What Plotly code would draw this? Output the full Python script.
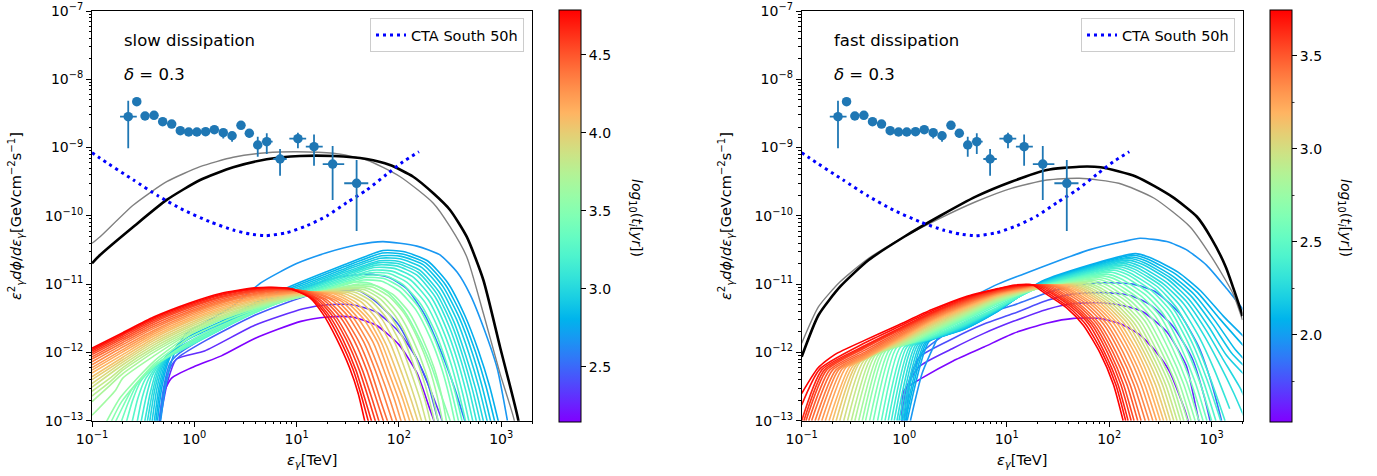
import math
import plotly.graph_objects as go

W, H = 1377, 476

# ---------------- data ----------------
PT_E = [0.226, 0.274, 0.330, 0.404, 0.491, 0.601, 0.730, 0.881, 1.06, 1.29, 1.57, 1.92, 2.34, 2.86, 3.45,
        4.17, 5.11, 6.89, 10.3, 14.8, 22.5, 38.6]
PT_E_MIN = [0.188, 0.274, 0.330, 0.404, 0.491, 0.601, 0.730, 0.881, 1.06, 1.29, 1.57, 1.92, 2.34, 2.86, 3.45,
            4.17, 4.56, 5.92, 8.49, 12.3, 18.0, 29.2]
PT_E_MAX = [0.274, 0.274, 0.330, 0.404, 0.491, 0.601, 0.730, 0.881, 1.06, 1.29, 1.57, 1.92, 2.34, 2.86, 3.45,
            4.17, 5.83, 8.0, 12.4, 18.0, 29.2, 50.2]
PT_F = [2.83e-9, 4.70e-9, 2.90e-9, 2.97e-9, 2.39e-9, 2.21e-9, 1.77e-9, 1.69e-9, 1.69e-9, 1.71e-9, 1.83e-9,
        1.65e-9, 1.49e-9, 2.12e-9, 1.62e-9, 1.09e-9, 1.22e-9, 6.80e-10, 1.35e-9, 1.03e-9, 5.74e-10, 3.0e-10]
PT_F_MIN = [9.75e-10, 4.55e-9, 2.80e-9, 2.87e-9, 2.30e-9, 2.12e-9, 1.70e-9, 1.62e-9, 1.62e-9, 1.63e-9, 1.75e-9,
            1.36e-9, 1.22e-9, 2.03e-9, 1.40e-9, 7.35e-10, 8.05e-10, 3.87e-10, 9.75e-10, 5.42e-10, 1.71e-10, 6.0e-11]
PT_F_MAX = [4.86e-9, 4.85e-9, 3.0e-9, 3.07e-9, 2.48e-9, 2.30e-9, 1.84e-9, 1.76e-9, 1.76e-9, 1.79e-9, 1.91e-9,
            1.72e-9, 1.56e-9, 2.21e-9, 1.69e-9, 1.44e-9, 1.62e-9, 9.53e-10, 1.65e-9, 1.56e-9, 1.05e-9, 6.57e-10]

CTA_E = [0.1, 0.120, 0.254, 0.445, 0.780, 1.42, 2.40, 3.50, 4.99, 8.0, 12.6, 19.7, 30.9, 48.4, 76.0, 110, 157]
CTA_F = [8.4e-10, 6.97e-10, 3.35e-10, 1.95e-10, 1.22e-10, 8.2e-11, 6.2e-11, 5.42e-11, 5.12e-11, 5.66e-11,
         7.18e-11, 9.95e-11, 1.56e-10, 2.39e-10, 4.06e-10, 6.2e-10, 8.69e-10]

BLK_L_E = [0.1, 0.12, 0.254, 0.537, 1.14, 2.40, 5.10, 10.8, 22.9, 48.4, 81.8, 138, 217, 316, 460, 669, 973, 1469, 1550]
BLK_L_F = [2.02e-11, 2.67e-11, 6.93e-11, 1.71e-10, 3.35e-10, 5.14e-10, 6.73e-10, 7.52e-10, 7.52e-10, 6.79e-10,
           5.55e-10, 3.74e-10, 2.14e-10, 1.22e-10, 4.95e-11, 1.15e-11, 1.21e-12, 1.02e-13, 5e-14]
GRY_L_E = [0.1, 0.12, 0.254, 0.537, 1.14, 2.40, 5.10, 10.0, 22.9, 48.4, 103, 217, 316, 460, 669, 973, 1340, 1420]
GRY_L_F = [3.96e-11, 4.94e-11, 1.44e-10, 3.16e-10, 5.25e-10, 7.2e-10, 8.41e-10, 8.69e-10, 8.24e-10, 6.58e-10,
           3.74e-10, 1.53e-10, 6.93e-11, 2.52e-11, 3.74e-12, 4.94e-13, 1.02e-13, 5e-14]
BLK_R_E = [0.1, 0.146, 0.237, 0.450, 1.0, 2.23, 4.99, 11.1, 24.7, 51.1, 82.6, 184, 410, 719, 993, 1370, 1967, 2000]
BLK_R_F = [8.65e-13, 3.53e-12, 9.16e-12, 2.25e-11, 4.94e-11, 9.95e-11, 1.91e-10, 3.16e-10, 4.69e-10, 5.25e-10,
           5.14e-10, 3.74e-10, 1.91e-10, 9.7e-11, 4.69e-11, 1.8e-11, 3.73e-12, 3.4e-12]
GRY_R_E = [0.1, 0.146, 0.237, 0.450, 1.0, 2.23, 4.99, 11.1, 24.7, 51.1, 124, 275, 614, 993, 1610, 2000]
GRY_R_F = [1.36e-12, 4.67e-12, 1.08e-11, 2.39e-11, 4.94e-11, 9.2e-11, 1.61e-10, 2.53e-10, 3.35e-10, 3.55e-10,
           3.0e-10, 1.81e-10, 6.93e-11, 2.52e-11, 7.34e-12, 2.98e-12]

# model spectra, flux in units of 1e-12 GeV cm^-2 s^-1
FLUX_UNIT = 1e-12

# left panel ("slow dissipation"), colour = log10(t_i[yr])
L_T = [2.15, 2.3, 2.45, 2.58, 2.68, 2.78, 2.83, 2.88, 2.93, 2.98, 3.03, 3.08, 3.14, 3.2, 3.26, 3.32, 3.39,
       3.45, 3.51, 3.58, 3.64, 3.7, 3.76, 3.82, 3.88, 3.94, 4.0, 4.06, 4.12, 4.18, 4.24, 4.3, 4.36, 4.42,
       4.48, 4.54, 4.6, 4.66, 4.72, 4.79]
L_E = [
    [0.45, 0.5, 0.6, 1.0, 1.84, 3.9, 11, 20, 35, 60, 100, 150, 200, 240],
    [0.45, 0.55, 0.67, 1.26, 3.9, 11.6, 20, 35, 60, 100, 150, 210, 280],
    [0.45, 0.52, 0.6, 0.7, 1.3, 3.9, 11.6, 25, 40, 60, 100, 150, 190, 250],
    [0.45, 0.5, 0.58, 0.7, 1.3, 3.9, 11, 25, 50, 80, 120, 180, 260, 350, 450],
    [0.46, 0.52, 0.6, 0.7, 0.87, 1.3, 2.3, 4.5, 10, 20, 40, 70, 150, 250, 370, 500, 680, 915, 1150],
    [0.43, 0.48, 0.56, 0.66, 0.87, 1.8, 3.9, 8, 16, 30, 70, 110, 190, 300, 440, 600, 770, 950],
    [0.415, 0.465, 0.54, 0.64, 0.88, 1.8, 3.9, 8, 16, 30, 69, 108, 182, 285, 415, 560, 710, 875],
    [0.4, 0.45, 0.52, 0.62, 0.9, 1.8, 3.9, 8, 16, 30, 68, 105, 175, 270, 390, 520, 650, 800],
    [0.38, 0.43, 0.495, 0.595, 0.9, 1.8, 3.9, 8, 16, 30, 66, 102, 168, 258, 368, 485, 605, 740],
    [0.36, 0.41, 0.47, 0.57, 0.9, 1.8, 3.9, 8, 16, 30, 65, 100, 160, 245, 345, 450, 560, 680],
    [0.34, 0.39, 0.445, 0.545, 0.9, 1.8, 3.9, 8, 16, 30, 62, 97, 155, 235, 328, 425, 525, 630],
    [0.32, 0.37, 0.42, 0.52, 0.9, 1.8, 3.9, 8, 16, 30, 60, 95, 150, 225, 310, 400, 490, 580],
    [0.295, 0.34, 0.39, 0.49, 0.9, 1.8, 3.9, 8, 16, 30, 57, 90, 140, 210, 290, 375, 455, 535],
    [0.27, 0.31, 0.36, 0.46, 0.9, 1.8, 3.9, 8, 16, 30, 55, 85, 130, 195, 270, 350, 420, 490],
    [0.24, 0.28, 0.33, 0.44, 0.9, 1.8, 3.9, 8, 16, 30, 52, 80, 120, 180, 250, 325, 390, 455],
    [0.21, 0.25, 0.3, 0.42, 0.9, 1.8, 3.9, 8, 16, 30, 50, 75, 110, 165, 230, 300, 360, 420],
    [0.185, 0.225, 0.275, 0.41, 0.9, 1.8, 3.9, 8, 16, 30, 47, 71, 105, 155, 215, 280, 335, 388],
    [0.16, 0.2, 0.25, 0.4, 0.9, 1.8, 3.9, 8, 16, 30, 45, 68, 100, 145, 200, 260, 310, 355],
    [0.148, 0.195, 0.41, 0.88, 1.82, 3.9, 8, 16, 35, 52, 78, 112, 157, 210, 261, 325],
    [0.135, 0.19, 0.41, 0.87, 1.84, 3.9, 8, 16, 40, 60, 88, 125, 170, 220, 262, 295],
    [0.1, 0.17, 0.2, 0.4, 0.88, 1.82, 3.9, 8, 16, 36, 55, 80, 113, 154, 200, 238, 270],
    [0.1, 0.15, 0.2, 0.4, 0.9, 1.8, 3.9, 8, 16, 33, 50, 72, 102, 138, 180, 215, 245],
    [0.1, 0.15, 0.2, 0.4, 0.9, 1.8, 3.9, 8, 16, 30, 46, 66, 93, 126, 164, 197, 225],
    [0.1, 0.15, 0.2, 0.4, 0.9, 1.8, 3.9, 8, 16, 28, 42, 60, 85, 115, 148, 180, 205],
    [0.1, 0.2, 0.4, 0.9, 1.8, 3.9, 8, 16, 25, 37, 54, 76, 103, 132, 162, 187],
    [0.1, 0.2, 0.4, 0.9, 1.8, 3.9, 8, 22, 33, 48, 68, 92, 118, 145, 170],
    [0.1, 0.2, 0.4, 0.9, 1.8, 3.9, 8, 19, 29, 43, 61, 83, 107, 132, 156],
    [0.1, 0.2, 0.4, 0.9, 1.8, 3.9, 8, 17, 26, 38, 55, 75, 97, 120, 142],
    [0.1, 0.2, 0.4, 0.9, 1.8, 3.9, 8, 15, 23, 34, 50, 68, 88, 110, 130],
    [0.1, 0.2, 0.4, 0.9, 1.8, 3.9, 8, 13, 20, 31, 45, 62, 80, 100, 118],
    [0.1, 0.2, 0.4, 0.9, 1.8, 3.9, 9, 11.5, 18, 28, 40, 56, 73, 91, 107],
    [0.1, 0.2, 0.4, 0.9, 1.8, 3.9, 10, 16, 25, 36, 50, 66, 82, 97],
    [0.1, 0.2, 0.4, 0.9, 1.8, 3.9, 9, 14.5, 22.5, 32.5, 45, 59.5, 74, 88],
    [0.1, 0.2, 0.4, 0.9, 1.8, 3.9, 8, 13, 20, 29, 40, 53, 66, 79],
    [0.1, 0.2, 0.4, 0.9, 1.8, 3.9, 7.5, 12, 18.5, 26.5, 36.5, 48.5, 60, 72],
    [0.1, 0.2, 0.4, 0.9, 1.8, 3.9, 7, 11, 17, 24, 33, 44, 54, 65],
    [0.1, 0.2, 0.4, 0.9, 1.8, 3.9, 6.5, 10.2, 16, 22.5, 30.5, 41, 50, 60],
    [0.1, 0.2, 0.4, 0.9, 1.8, 3.9, 6, 9.5, 15, 21, 28, 38, 46, 55],
    [0.1, 0.2, 0.4, 0.9, 1.8, 3.9, 5.75, 9.05, 14.2, 19.6, 26.2, 35.5, 43, 51],
    [0.1, 0.2, 0.4, 0.9, 1.8, 3.9, 5.5, 8.6, 13.5, 18.2, 24.5, 33, 40, 47],
]
L_F = [
    [0.08, 0.25, 0.42, 0.62, 0.89, 1.6, 2.85, 3.3, 3.3, 2.5, 1.3, 0.5, 0.15, 0.07],
    [0.08, 0.38, 0.8, 1.05, 2.5, 4.35, 5.0, 5.0, 3.9, 2.0, 0.8, 0.25, 0.08],
    [0.08, 0.35, 0.65, 0.85, 1.5, 3.5, 6.5, 8.0, 8.1, 5.5, 2.5, 0.8, 0.37, 0.08],
    [0.08, 0.3, 0.7, 0.95, 1.7, 4.3, 8.5, 12.5, 14, 12.5, 8.5, 3.5, 1.0, 0.3, 0.09],
    [0.08, 0.3, 0.75, 1.3, 2.0, 2.8, 4.6, 10.5, 20, 29, 38, 42, 36, 27, 15, 6.9, 2.2, 0.58, 0.1],
    [0.08, 0.3, 0.75, 1.2, 1.7, 2.8, 5.3, 8.8, 13.5, 19.5, 31, 30, 22, 10.5, 3.5, 1.05, 0.32, 0.09],
    [0.08, 0.3, 0.72, 1.12, 1.57, 2.65, 5.0, 8.3, 12.6, 18.2, 28.5, 27.7, 20.5, 9.8, 3.35, 1.02, 0.32, 0.09],
    [0.08, 0.3, 0.7, 1.05, 1.45, 2.5, 4.7, 7.8, 11.8, 17, 26, 25.5, 19, 9.2, 3.2, 1.0, 0.32, 0.09],
    [0.08, 0.29, 0.65, 1.0, 1.4, 2.4, 4.5, 7.4, 11.1, 16, 24, 23.5, 17.5, 8.5, 3.0, 0.95, 0.31, 0.09],
    [0.08, 0.28, 0.6, 0.95, 1.35, 2.3, 4.3, 7.0, 10.5, 15, 22, 21.5, 16, 7.8, 2.8, 0.9, 0.3, 0.09],
    [0.08, 0.26, 0.55, 0.9, 1.32, 2.25, 4.2, 6.7, 10, 14.2, 20.5, 20, 14.8, 7.2, 2.6, 0.85, 0.28, 0.09],
    [0.08, 0.25, 0.5, 0.85, 1.3, 2.2, 4.1, 6.4, 9.6, 13.5, 19, 18.5, 13.5, 6.6, 2.4, 0.8, 0.27, 0.09],
    [0.08, 0.23, 0.46, 0.78, 1.27, 2.17, 4.0, 6.25, 9.2, 12.7, 17.5, 17, 12.5, 6.2, 2.25, 0.75, 0.26, 0.09],
    [0.08, 0.22, 0.42, 0.72, 1.25, 2.15, 3.9, 6.1, 8.8, 12, 16, 15.5, 11.5, 5.8, 2.1, 0.7, 0.25, 0.09],
    [0.08, 0.21, 0.4, 0.69, 1.27, 2.17, 3.85, 6.0, 8.5, 11.4, 14.7, 14.3, 10.6, 5.4, 2.0, 0.66, 0.24, 0.09],
    [0.08, 0.2, 0.38, 0.66, 1.3, 2.2, 3.8, 5.9, 8.2, 10.8, 13.5, 13.2, 9.8, 5.0, 1.9, 0.62, 0.24, 0.09],
    [0.08, 0.18, 0.34, 0.64, 1.37, 2.32, 3.9, 5.85, 7.95, 10.3, 12.5, 12.1, 8.9, 4.65, 1.8, 0.61, 0.23, 0.09],
    [0.08, 0.16, 0.3, 0.62, 1.45, 2.45, 4.0, 5.8, 7.7, 9.8, 11.5, 11.0, 8.0, 4.3, 1.7, 0.6, 0.23, 0.09],
    [0.085, 0.19, 0.69, 1.6, 2.72, 4.2, 5.8, 7.55, 10.7, 10.3, 7.5, 4.1, 1.65, 0.6, 0.23, 0.09],
    [0.09, 0.22, 0.76, 1.75, 3.0, 4.4, 5.8, 7.4, 10.0, 9.5, 7.0, 3.9, 1.6, 0.6, 0.23, 0.09],
    [0.12, 0.28, 0.42, 0.88, 1.85, 3.05, 4.5, 5.95, 7.5, 9.5, 9.05, 6.6, 3.7, 1.55, 0.57, 0.22, 0.09],
    [0.19, 0.33, 0.49, 1.0, 1.95, 3.1, 4.6, 6.1, 7.6, 9.0, 8.6, 6.3, 3.5, 1.5, 0.55, 0.22, 0.09],
    [0.23, 0.37, 0.55, 1.09, 2.08, 3.25, 4.75, 6.2, 7.6, 8.6, 8.25, 6.05, 3.35, 1.45, 0.52, 0.21, 0.09],
    [0.27, 0.42, 0.6, 1.18, 2.2, 3.4, 4.9, 6.3, 7.6, 8.3, 7.9, 5.8, 3.2, 1.4, 0.5, 0.2, 0.09],
    [0.31, 0.66, 1.28, 2.35, 3.6, 5.1, 6.45, 7.6, 8.0, 7.6, 5.6, 3.15, 1.38, 0.5, 0.2, 0.09],
    [0.35, 0.72, 1.38, 2.5, 3.8, 5.3, 6.6, 7.8, 7.4, 5.5, 3.1, 1.35, 0.5, 0.2, 0.09],
    [0.4, 0.78, 1.49, 2.68, 4.0, 5.55, 6.8, 7.7, 7.3, 5.45, 3.05, 1.32, 0.49, 0.2, 0.09],
    [0.44, 0.85, 1.6, 2.85, 4.2, 5.8, 7.0, 7.6, 7.2, 5.4, 3.0, 1.3, 0.48, 0.19, 0.09],
    [0.5, 0.93, 1.72, 3.02, 4.45, 6.05, 7.15, 7.6, 7.25, 5.4, 3.05, 1.35, 0.49, 0.2, 0.09],
    [0.55, 1.02, 1.85, 3.2, 4.7, 6.3, 7.3, 7.6, 7.3, 5.4, 3.1, 1.4, 0.5, 0.2, 0.09],
    [0.6, 1.1, 1.97, 3.4, 4.95, 6.55, 7.5, 7.7, 7.35, 5.5, 3.15, 1.4, 0.5, 0.2, 0.09],
    [0.66, 1.2, 2.1, 3.6, 5.2, 6.8, 7.8, 7.4, 5.6, 3.2, 1.4, 0.5, 0.2, 0.09],
    [0.73, 1.3, 2.25, 3.8, 5.45, 7.05, 7.95, 7.55, 5.7, 3.25, 1.45, 0.52, 0.2, 0.09],
    [0.8, 1.4, 2.4, 4.0, 5.7, 7.3, 8.1, 7.7, 5.8, 3.3, 1.5, 0.55, 0.2, 0.09],
    [0.86, 1.5, 2.57, 4.25, 6.0, 7.6, 8.25, 7.85, 5.85, 3.35, 1.5, 0.55, 0.21, 0.09],
    [0.93, 1.6, 2.75, 4.5, 6.3, 7.9, 8.4, 8.0, 5.9, 3.4, 1.5, 0.55, 0.22, 0.09],
    [0.99, 1.7, 2.9, 4.7, 6.55, 8.15, 8.6, 8.15, 5.95, 3.4, 1.55, 0.55, 0.22, 0.09],
    [1.05, 1.8, 3.05, 4.9, 6.8, 8.4, 8.8, 8.3, 6.0, 3.4, 1.6, 0.55, 0.22, 0.09],
    [1.1, 1.88, 3.18, 5.1, 7.05, 8.6, 8.9, 8.45, 6.15, 3.5, 1.6, 0.57, 0.23, 0.09],
    [1.15, 1.95, 3.3, 5.3, 7.3, 8.8, 9.0, 8.6, 6.3, 3.6, 1.6, 0.59, 0.25, 0.09],
]

# right panel ("fast dissipation")
R_T = [1.55, 1.65, 1.75, 1.85, 1.98, 2.05, 2.09, 2.12, 2.16, 2.2, 2.24, 2.28, 2.32, 2.36, 2.4, 2.45, 2.5,
       2.55, 2.6, 2.65, 2.7, 2.75, 2.8, 2.85, 2.9, 2.95, 3.0, 3.05, 3.1, 3.15, 3.2, 3.25, 3.3, 3.35, 3.4,
       3.45, 3.5, 3.55, 3.6, 3.65, 3.7, 3.747]
R_E = [
    [0.95, 1.0, 1.53, 3, 6, 11.6, 25, 45, 80, 130, 200, 290, 390, 550, 600],
    [0.95, 1.05, 1.4, 3, 6, 11.6, 25, 45, 90, 150, 215, 365, 565, 700, 760],
    [1.0, 1.1, 1.4, 3, 6, 11.6, 25, 45, 90, 160, 250, 420, 650, 850, 980],
    [1.05, 1.15, 1.5, 3, 6, 11.6, 25, 45, 90, 170, 280, 480, 750, 1000, 1250],
    [1.15, 1.5, 2.14, 2.6, 3.9, 8.2, 14.5, 30.7, 65, 137, 200, 365, 565, 890, 1400, 2150],
    [1.07, 1.75, 2.6, 3.9, 8.2, 22, 180, 250, 470, 780, 1300, 2150],
    [1.03, 1.67, 2.5, 3.9, 8.2, 22, 172, 240, 445, 730, 1200, 2150],
    [1.0, 1.6, 2.4, 3.9, 8.2, 22, 165, 230, 420, 680, 1100, 1700, 2150],
    [0.965, 1.52, 2.3, 3.9, 8.2, 22, 157, 220, 400, 640, 1025, 1550, 2150],
    [0.93, 1.45, 2.2, 3.9, 8.2, 22, 150, 210, 380, 600, 950, 1400, 2150],
    [0.89, 1.37, 2.1, 3.9, 8.2, 22, 145, 200, 360, 565, 885, 1275, 1900, 2150],
    [0.85, 1.3, 2.0, 3.9, 8.2, 22, 140, 190, 340, 530, 820, 1150, 1650, 2150],
    [0.8, 1.22, 1.9, 3.9, 8.2, 22, 132, 180, 320, 495, 760, 1065, 1500],
    [0.75, 1.15, 1.8, 3.9, 8.2, 22, 125, 170, 300, 460, 700, 980, 1350],
    [0.7, 1.07, 1.7, 3.9, 8.2, 22, 117, 160, 280, 430, 650, 905, 1225],
    [0.65, 1.0, 1.6, 3.9, 8.2, 22, 110, 150, 260, 400, 600, 830, 1100],
    [0.6, 0.92, 1.5, 3.9, 8.2, 22, 102, 140, 242, 370, 550, 760, 1000],
    [0.55, 0.85, 1.4, 3.9, 8.2, 22, 95, 130, 225, 340, 500, 690, 900],
    [0.5, 0.78, 1.3, 1.84, 3.9, 8.2, 22, 87, 120, 207, 312, 457, 632, 825],
    [0.46, 0.72, 1.2, 1.84, 3.9, 8.2, 22, 80, 110, 190, 285, 415, 575, 750],
    [0.42, 0.66, 1.1, 1.84, 3.9, 8.2, 22, 75, 102, 176, 262, 382, 530, 690],
    [0.39, 0.61, 1.0, 1.84, 3.9, 8.2, 22, 70, 95, 162, 240, 350, 485, 630],
    [0.36, 0.565, 0.93, 1.84, 3.9, 8.2, 22, 65, 87, 150, 222, 324, 450, 582],
    [0.33, 0.52, 0.87, 1.84, 3.9, 8.2, 22, 60, 80, 137, 205, 298, 415, 535],
    [0.305, 0.48, 0.87, 1.84, 3.9, 8.2, 22, 55, 74, 127, 190, 276, 385, 497],
    [0.28, 0.44, 0.87, 1.84, 3.9, 8.2, 22, 50, 68, 117, 175, 255, 355, 460],
    [0.257, 0.405, 0.87, 1.84, 3.9, 8.2, 22, 46, 63, 108, 162, 237, 330, 427],
    [0.235, 0.37, 0.87, 1.84, 3.9, 8.2, 22, 42, 58, 100, 150, 220, 305, 395],
    [0.217, 0.345, 0.87, 1.84, 3.9, 8.2, 22, 39.5, 54, 93, 140, 205, 282, 367],
    [0.2, 0.32, 0.87, 1.84, 3.9, 8.2, 22, 37, 50, 87, 130, 190, 260, 340],
    [0.185, 0.295, 0.41, 0.87, 1.84, 3.9, 8.2, 22, 34.5, 46.5, 81, 121, 176, 241, 315],
    [0.17, 0.27, 0.41, 0.87, 1.84, 3.9, 8.2, 22, 32, 43, 75, 112, 162, 222, 290],
    [0.157, 0.25, 0.41, 0.87, 1.84, 3.9, 8.2, 21, 30, 40, 69.5, 103, 150, 205, 267],
    [0.145, 0.23, 0.41, 0.87, 1.84, 3.9, 8.2, 20, 28, 37, 64, 95, 137, 188, 245],
    [0.135, 0.215, 0.41, 0.87, 1.84, 3.9, 8.2, 19, 26.5, 34.5, 59.5, 88, 127, 174, 225],
    [0.125, 0.2, 0.41, 0.87, 1.84, 3.9, 8.2, 18, 25, 32, 55, 81, 117, 160, 205],
    [0.117, 0.187, 0.41, 0.87, 1.84, 3.9, 8.2, 17, 23.5, 30, 51.5, 76, 109, 149, 190],
    [0.11, 0.175, 0.41, 0.87, 1.84, 3.9, 8.2, 16, 22, 28, 48, 71, 102, 138, 175],
    [0.105, 0.166, 0.41, 0.87, 1.84, 3.9, 8.2, 15, 21, 26.5, 45.5, 67, 96, 130, 164],
    [0.1, 0.158, 0.41, 0.87, 1.84, 3.9, 8.2, 14, 20, 25, 43, 63, 90, 122, 153],
    [0.1, 0.15, 0.41, 0.87, 1.84, 3.9, 8.2, 13, 19, 23.8, 40.7, 59.5, 85.5, 116, 145],
    [0.1, 0.144, 0.21, 0.41, 0.87, 1.84, 3.9, 8.2, 12, 18, 22.6, 38.5, 56, 81, 110, 137],
]
R_F = [
    [0.1, 0.28, 0.43, 0.75, 1.2, 1.9, 2.7, 3.15, 3.15, 2.6, 1.8, 1.0, 0.52, 0.14, 0.09],
    [0.1, 0.3, 0.62, 1.15, 1.9, 2.85, 4.3, 5.2, 5.3, 4.7, 3.9, 2.0, 0.64, 0.16, 0.09],
    [0.1, 0.35, 0.85, 1.6, 2.6, 3.7, 5.8, 7.2, 7.5, 6.8, 5.0, 2.4, 0.8, 0.22, 0.09],
    [0.1, 0.4, 1.0, 2.2, 3.6, 4.9, 7.5, 9.5, 10.5, 10, 7.8, 3.8, 1.2, 0.35, 0.1],
    [0.1, 0.5, 1.7, 3.2, 5.6, 10.0, 14, 21.5, 32, 42, 47, 42, 32, 19, 8.6, 3.8],
    [0.1, 1.45, 1.8, 2.2, 4.0, 11, 28, 24.5, 15, 8, 3.4, 1.6],
    [0.1, 1.42, 1.78, 2.22, 4.05, 10.8, 26.5, 23.1, 14, 7.5, 3.1, 1.15],
    [0.1, 1.4, 1.75, 2.25, 4.1, 10.6, 25, 21.8, 13, 7, 2.8, 1.1, 0.75],
    [0.1, 1.37, 1.72, 2.3, 4.15, 10.45, 23.7, 20.6, 12.2, 6.5, 2.55, 1.0, 0.6],
    [0.1, 1.35, 1.7, 2.35, 4.2, 10.3, 22.5, 19.5, 11.5, 6, 2.3, 0.9, 0.45],
    [0.1, 1.32, 1.68, 2.4, 4.25, 10.15, 21.2, 18.3, 10.7, 5.6, 2.1, 0.82, 0.3, 0.2],
    [0.1, 1.3, 1.65, 2.45, 4.3, 10, 20, 17.2, 10, 5.2, 1.9, 0.75, 0.25, 0.1],
    [0.1, 1.28, 1.62, 2.5, 4.35, 9.8, 19, 16.3, 9.5, 4.8, 1.65, 0.55, 0.15],
    [0.1, 1.25, 1.6, 2.55, 4.4, 9.6, 18, 15.5, 9.0, 4.4, 1.4, 0.4, 0.1],
    [0.1, 1.22, 1.57, 2.62, 4.5, 9.45, 17, 14.6, 8.5, 4.2, 1.35, 0.39, 0.1],
    [0.1, 1.2, 1.55, 2.7, 4.6, 9.3, 16, 13.8, 8.0, 4.0, 1.3, 0.38, 0.1],
    [0.1, 1.2, 1.52, 2.85, 4.9, 9.3, 15, 12.9, 7.5, 3.8, 1.25, 0.38, 0.1],
    [0.1, 1.2, 1.5, 3.0, 5.2, 9.3, 14, 12, 7.0, 3.6, 1.2, 0.37, 0.1],
    [0.1, 1.15, 1.45, 1.85, 3.1, 5.3, 9.15, 13.2, 11.4, 6.6, 3.45, 1.17, 0.36, 0.1],
    [0.1, 1.1, 1.4, 1.9, 3.2, 5.4, 9.0, 12.5, 10.8, 6.3, 3.3, 1.15, 0.36, 0.1],
    [0.1, 1.05, 1.35, 1.95, 3.3, 5.5, 8.95, 11.9, 10.25, 6.0, 3.15, 1.1, 0.35, 0.1],
    [0.1, 1.0, 1.3, 2.0, 3.4, 5.6, 8.9, 11.3, 9.7, 5.7, 3.0, 1.05, 0.35, 0.1],
    [0.1, 0.95, 1.28, 2.08, 3.5, 5.75, 8.9, 10.9, 9.35, 5.5, 2.9, 1.02, 0.34, 0.1],
    [0.1, 0.9, 1.25, 2.15, 3.6, 5.9, 8.9, 10.5, 9.0, 5.3, 2.8, 1.0, 0.34, 0.1],
    [0.1, 0.85, 1.28, 2.22, 3.72, 6.05, 8.9, 10.25, 8.8, 5.2, 2.75, 1.0, 0.34, 0.1],
    [0.1, 0.8, 1.3, 2.3, 3.85, 6.2, 8.9, 10.0, 8.6, 5.1, 2.7, 1.0, 0.34, 0.1],
    [0.1, 0.76, 1.34, 2.4, 3.97, 6.35, 8.95, 9.9, 8.5, 5.05, 2.7, 1.0, 0.34, 0.1],
    [0.1, 0.72, 1.38, 2.5, 4.1, 6.5, 9.0, 9.8, 8.4, 5.0, 2.7, 1.0, 0.34, 0.1],
    [0.1, 0.68, 1.42, 2.6, 4.25, 6.65, 9.1, 9.75, 8.35, 4.95, 2.65, 1.0, 0.34, 0.1],
    [0.1, 0.65, 1.45, 2.7, 4.4, 6.8, 9.2, 9.7, 8.3, 4.9, 2.6, 1.0, 0.34, 0.1],
    [0.1, 0.62, 0.8, 1.5, 2.8, 4.55, 6.95, 9.35, 9.65, 8.25, 4.85, 2.6, 1.0, 0.34, 0.1],
    [0.1, 0.6, 0.83, 1.55, 2.9, 4.7, 7.1, 9.5, 9.6, 8.2, 4.8, 2.6, 1.0, 0.34, 0.1],
    [0.1, 0.58, 0.86, 1.61, 3.0, 4.85, 7.25, 9.55, 9.6, 8.2, 4.8, 2.6, 1.0, 0.34, 0.1],
    [0.1, 0.56, 0.9, 1.68, 3.1, 5.0, 7.4, 9.6, 9.6, 8.2, 4.8, 2.6, 1.0, 0.34, 0.1],
    [0.1, 0.55, 0.95, 1.76, 3.22, 5.17, 7.55, 9.6, 9.6, 8.15, 4.75, 2.6, 1.0, 0.34, 0.1],
    [0.1, 0.55, 1.0, 1.85, 3.35, 5.35, 7.7, 9.6, 9.6, 8.1, 4.7, 2.6, 1.0, 0.34, 0.1],
    [0.1, 0.55, 1.07, 1.95, 3.47, 5.52, 7.85, 9.6, 9.6, 8.1, 4.7, 2.6, 1.0, 0.34, 0.1],
    [0.1, 0.55, 1.15, 2.05, 3.6, 5.7, 8.0, 9.6, 9.6, 8.1, 4.7, 2.6, 1.0, 0.34, 0.1],
    [0.1, 0.55, 1.2, 2.12, 3.7, 5.9, 8.2, 9.6, 9.6, 8.05, 4.65, 2.6, 1.0, 0.34, 0.1],
    [0.1, 0.56, 1.25, 2.2, 3.8, 6.1, 8.4, 9.6, 9.6, 8.0, 4.6, 2.6, 1.0, 0.34, 0.1],
    [0.17, 0.57, 1.37, 2.35, 4.0, 6.3, 8.5, 9.65, 9.65, 7.85, 4.55, 2.55, 1.0, 0.34, 0.1],
    [0.25, 0.59, 0.93, 1.5, 2.5, 4.2, 6.5, 8.6, 9.7, 9.7, 7.7, 4.5, 2.5, 1.0, 0.34, 0.1],
]

CB_L_RANGE = [2.147, 4.789]
CB_R_RANGE = [1.534, 3.747]
CB_L_TICKS = [2.5, 3.0, 3.5, 4.0, 4.5]
CB_R_TICKS = [2.0, 2.5, 3.0, 3.5]
CB_R_MINOR = [1.75, 2.25, 2.75, 3.25]

X_TICKS = [0.1, 1, 10, 100, 1000]
X_TICKTEXT = ["10<sup>\u22121</sup>", "10<sup>0</sup>", "10<sup>1</sup>", "10<sup>2</sup>", "10<sup>3</sup>"]
Y_TICKS = [1e-13, 1e-12, 1e-11, 1e-10, 1e-9, 1e-8, 1e-7]
Y_TICKTEXT = ["10<sup>\u2212%d</sup>" % k for k in (13, 12, 11, 10, 9, 8, 7)]

# ---------------- styling helpers ----------------
FONT = "DejaVu Sans"


def rainbow(x):
    x = min(max(x, 0.0), 1.0)
    r = min(1.0, abs(2 * x - 0.5))
    g = math.sin(math.pi * x)
    b = math.cos(math.pi * x / 2)
    return "rgb(%d,%d,%d)" % (round(r * 255), round(g * 255), round(b * 255))


COLORSCALE = [[i / 20, rainbow(i / 20)] for i in range(21)]

# layout geometry (pixels)
AX_L = (92, 532)
AX_R = (801.7, 1242.5)
AX_TOP, AX_BOT = 11, 420.7
CB_TOP, CB_BOT = 10, 421.7
CB_L_X, CB_R_X = 559, 1270
CB_W = 21.5


def px(x):
    return x / W


def py(y):
    return 1 - y / H


minor_x = [k * 10.0 ** n for n in range(-1, 4) for k in range(2, 10) if k * 10.0 ** n <= 2000]
minor_y = [k * 10.0 ** n for n in range(-13, -7) for k in range(2, 10)]

fig = go.Figure()


def add_panel(xa, ya, T, EE, FF, cbr, blk, gry, legend):
    lo, hi = cbr
    for t, e, f in zip(T, EE, FF):
        fig.add_trace(go.Scatter(
            x=e, y=[v * FLUX_UNIT for v in f], mode="lines", xaxis=xa, yaxis=ya,
            line=dict(color=rainbow((t - lo) / (hi - lo)), width=1.6, shape="spline", smoothing=0.6),
            showlegend=False, hoverinfo="skip"))
    fig.add_trace(go.Scatter(x=gry[0], y=gry[1], mode="lines", xaxis=xa, yaxis=ya,
                             line=dict(color="#808080", width=1.4, shape="spline", smoothing=0.6),
                             showlegend=False, hoverinfo="skip"))
    fig.add_trace(go.Scatter(x=blk[0], y=blk[1], mode="lines", xaxis=xa, yaxis=ya,
                             line=dict(color="black", width=2.6, shape="spline", smoothing=0.6),
                             showlegend=False, hoverinfo="skip"))
    fig.add_trace(go.Scatter(x=CTA_E, y=CTA_F, mode="lines", xaxis=xa, yaxis=ya, name="CTA South 50h",
                             line=dict(color="#0000ff", width=3, dash="3px,4px", shape="spline", smoothing=0.6),
                             showlegend=True, legend=legend, hoverinfo="skip"))
    fig.add_trace(go.Scatter(
        x=PT_E, y=PT_F, mode="markers", xaxis=xa, yaxis=ya,
        marker=dict(color="#1f77b4", size=9.5),
        error_y=dict(type="data", symmetric=False,
                     array=[b - a for a, b in zip(PT_F, PT_F_MAX)],
                     arrayminus=[a - b for a, b in zip(PT_F, PT_F_MIN)],
                     color="#1f77b4", thickness=1.8, width=0),
        error_x=dict(type="data", symmetric=False,
                     array=[b - a for a, b in zip(PT_E, PT_E_MAX)],
                     arrayminus=[a - b for a, b in zip(PT_E, PT_E_MIN)],
                     color="#1f77b4", thickness=1.8, width=0),
        showlegend=False, hoverinfo="skip"))
    # invisible trace carrying the colour bar
    cbx = CB_L_X if xa == "x" else CB_R_X
    ticks = CB_L_TICKS if xa == "x" else CB_R_TICKS
    fig.add_trace(go.Scatter(
        x=[1.0, 1.0], y=[1e-20, 1e-20], mode="markers", xaxis=xa, yaxis=ya, showlegend=False,
        hoverinfo="skip",
        marker=dict(color=[lo, hi], cmin=lo, cmax=hi, colorscale=COLORSCALE, opacity=0, showscale=True,
                    colorbar=dict(x=px(cbx), xanchor="left", xpad=0, ypad=0,
                                  y=py(CB_BOT), yanchor="bottom", len=(CB_BOT - CB_TOP) / H, lenmode="fraction",
                                  thickness=CB_W, thicknessmode="pixels",
                                  outlinewidth=1, outlinecolor="black",
                                  tickmode="array", tickvals=ticks, ticktext=["%.1f" % v for v in ticks],
                                  ticks="outside", ticklen=5, tickwidth=1, tickcolor="black",
                                  tickfont=dict(family=FONT, size=14, color="black")))))


add_panel("x", "y", L_T, L_E, L_F, CB_L_RANGE, (BLK_L_E, BLK_L_F), (GRY_L_E, GRY_L_F), "legend")
add_panel("x2", "y2", R_T, R_E, R_F, CB_R_RANGE, (BLK_R_E, BLK_R_F), (GRY_R_E, GRY_R_F), "legend2")

axis_common = dict(type="log", showline=True, linecolor="black", linewidth=1, mirror=True,
                   ticks="outside", ticklen=5, tickwidth=1, tickcolor="black", showgrid=False, zeroline=False,
                   tickfont=dict(family=FONT, size=14, color="black"), tickmode="array", automargin=False)
xa = dict(axis_common, range=[-1, math.log10(2000)], tickvals=X_TICKS, ticktext=X_TICKTEXT,
          minor=dict(tickmode="array", tickvals=minor_x, ticks="outside", ticklen=2.5, tickwidth=0.8,
                     tickcolor="black", showgrid=False))
ya = dict(axis_common, range=[-13, -7], tickvals=Y_TICKS, ticktext=Y_TICKTEXT,
          minor=dict(tickmode="array", tickvals=minor_y, ticks="outside", ticklen=2.5, tickwidth=0.8,
                     tickcolor="black", showgrid=False))

legend_common = dict(bgcolor="rgba(255,255,255,0.8)", bordercolor="#cccccc", borderwidth=1,
                     font=dict(family=FONT, size=14.5, color="black"), xanchor="right", yanchor="top")

annotations = []
XT = "<i>\u03b5</i><sub><i>\u03b3</i></sub>[TeV]"
YT = ("<i>\u03b5</i><sup>2</sup><sub><i>\u03b3</i></sub><i>d\u03d5</i>/<i>d\u03b5</i><sub><i>\u03b3</i></sub>"
      "[GeVcm<sup>\u22122</sup>s<sup>\u22121</sup>]")
CBT = "<i>log</i><sub>10</sub>(<i>t</i><sub><i>i</i></sub>[<i>yr</i>])"
for (x0, x1), label, ytx, cbtx in ((AX_L, "slow dissipation", 16, 636), (AX_R, "fast dissipation", 726, 1345)):
    annotations += [
        dict(text=XT, x=px((x0 + x1) / 2), y=py(461), xref="paper", yref="paper", showarrow=False,
             xanchor="center", yanchor="middle", font=dict(family=FONT, size=14.5, color="black")),
        dict(text=YT, x=px(ytx), y=py(216), xref="paper", yref="paper", showarrow=False, textangle=-90,
             xanchor="center", yanchor="middle", font=dict(family=FONT, size=14.5, color="black")),
        dict(text=label, x=px(x0 + 30), y=py(40), xref="paper", yref="paper", showarrow=False,
             xanchor="left", yanchor="middle", font=dict(family=FONT, size=16.5, color="black")),
        dict(text="<i>\u03b4</i> = 0.3", x=px(x0 + 30), y=py(74), xref="paper", yref="paper", showarrow=False,
             xanchor="left", yanchor="middle", font=dict(family=FONT, size=16.5, color="black")),
        dict(text=CBT, x=px(cbtx), y=py(218), xref="paper", yref="paper", showarrow=False, textangle=90,
             xanchor="center", yanchor="middle", font=dict(family=FONT, size=14, color="black")),
    ]

# minor ticks of the right colour bar
shapes = []
for v in CB_R_MINOR:
    yy = CB_BOT - (v - CB_R_RANGE[0]) / (CB_R_RANGE[1] - CB_R_RANGE[0]) * (CB_BOT - CB_TOP)
    shapes.append(dict(type="line", xref="paper", yref="paper", x0=px(CB_R_X + CB_W), x1=px(CB_R_X + CB_W + 3),
                       y0=py(yy), y1=py(yy), line=dict(color="black", width=0.8)))

fig.update_layout(
    width=W, height=H, margin=dict(l=0, r=0, t=0, b=0, pad=0), autosize=False,
    paper_bgcolor="white", plot_bgcolor="white",
    font=dict(family=FONT, color="black"),
    xaxis=dict(xa, domain=[px(AX_L[0]), px(AX_L[1])], anchor="y"),
    yaxis=dict(ya, domain=[py(AX_BOT), py(AX_TOP)], anchor="x"),
    xaxis2=dict(xa, domain=[px(AX_R[0]), px(AX_R[1])], anchor="y2"),
    yaxis2=dict(ya, domain=[py(AX_BOT), py(AX_TOP)], anchor="x2"),
    legend=dict(legend_common, x=px(524), y=py(18)),
    legend2=dict(legend_common, x=px(1235), y=py(18)),
    annotations=annotations, shapes=shapes,
    hovermode=False,
)

fig.write_html("out.html", config={"displayModeBar": False},
               post_script="document.body.style.margin='0px';document.body.style.padding='0px';")
